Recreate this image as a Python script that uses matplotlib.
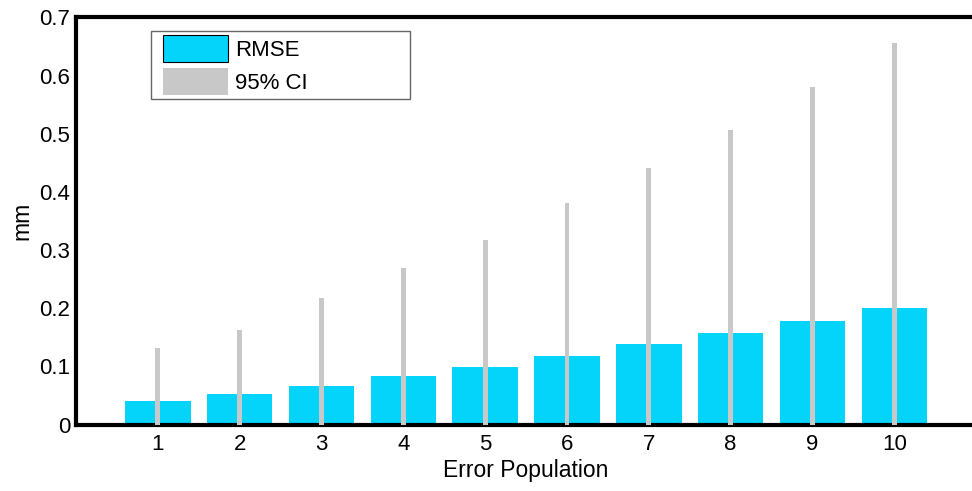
import matplotlib.pyplot as plt
from matplotlib.patches import Patch
from matplotlib.legend_handler import HandlerPatch

# populacoes de erro e valores medidos (mm)
populacao = [1, 2, 3, 4, 5, 6, 7, 8, 9, 10]
rmse = [0.040, 0.052, 0.067, 0.083, 0.099, 0.118, 0.138, 0.158, 0.178, 0.200]
ic95 = [0.132, 0.162, 0.218, 0.269, 0.318, 0.381, 0.442, 0.506, 0.580, 0.656]

plt.rcParams['font.family'] = ['Liberation Sans', 'DejaVu Sans']

fig = plt.figure(figsize=(9.72, 4.91), dpi=100)
ax = fig.add_axes([0.0782, 0.1354, 0.926, 0.829])

cor_barra = '#04d4fa'
cor_ic = '#c8c8c8'

ax.bar(populacao, rmse, width=0.8, color=cor_barra, zorder=2)
# linha do intervalo de confianca sobre cada barra
ax.bar(populacao, ic95, width=0.06, color=cor_ic, zorder=3)

ax.set_xlim(0, 11)
ax.set_ylim(0, 0.7)
ax.set_xticks(populacao)
ax.set_yticks([0, 0.1, 0.2, 0.3, 0.4, 0.5, 0.6, 0.7])
ax.set_yticklabels(['0', '0.1', '0.2', '0.3', '0.4', '0.5', '0.6', '0.7'])
ax.tick_params(length=0, labelsize=16)
ax.tick_params(axis='x', pad=7)
ax.tick_params(axis='y', pad=4)

for lado in ['left', 'bottom', 'top']:
    ax.spines[lado].set_linewidth(3)
ax.spines['right'].set_visible(False)

ax.set_xlabel('Error Population', fontsize=16.5, labelpad=3)
ax.set_ylabel('mm', fontsize=16.5, labelpad=4)

legenda = [Patch(facecolor=cor_barra, edgecolor='black', linewidth=0.8, label='RMSE'),
           Patch(facecolor=cor_ic, edgecolor='none', label='95% CI')]
leg = ax.legend(handles=legenda, loc='upper left', bbox_to_anchor=(0.083, 0.967),
                fontsize=16, frameon=True, fancybox=False, handlelength=3.3,
                handleheight=1.45, handletextpad=0.3, labelspacing=0.3,
                borderpad=0.2, borderaxespad=0,
                handler_map={Patch: HandlerPatch(xpad=0.35)})
leg.get_frame().set_edgecolor('#404040')
leg.get_frame().set_linewidth(1.0)
# caixa da legenda mais larga que o texto, itens alinhados a esquerda
leg._legend_box.align = 'left'
leg._legend_box.set_width(250)

fig.savefig('out.png', dpi=100)
